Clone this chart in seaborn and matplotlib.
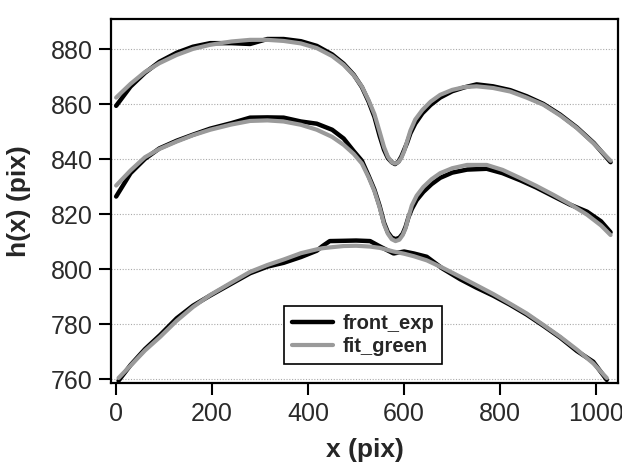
import matplotlib
matplotlib.use("Agg")
import matplotlib.pyplot as plt
import seaborn as sns
import pandas as pd

# values
x_top = [0, 30, 60, 90, 126, 160, 196, 240, 279, 315, 349, 385, 418, 450, 474, 495, 512, 526, 538, 549, 558, 566, 574, 581, 588, 594, 600, 606, 613, 623, 638, 655, 675, 700, 725, 751, 785, 821, 855, 890, 925, 960, 995, 1030]
fit_top = [862.5, 867.5, 871.8, 875.0, 878.0, 880.2, 881.7, 882.9, 883.5, 883.5, 883.1, 882.2, 880.5, 877.6, 874.4, 870.6, 866.5, 861.5, 856.5, 850.0, 844.5, 841.0, 839.0, 838.5, 839.0, 840.5, 843.0, 846.5, 850.5, 854.5, 858.0, 861.0, 863.5, 865.3, 866.3, 866.6, 866.0, 864.7, 862.5, 859.9, 856.0, 851.4, 845.8, 839.5]
exp_top = [859.5, 866.5, 871.5, 875.5, 878.8, 881.0, 882.3, 882.3, 882.0, 883.8, 883.8, 883.0, 881.3, 878.2, 874.8, 870.8, 866.3, 861.0, 855.5, 848.5, 843.5, 840.5, 839.0, 838.3, 839.2, 841.0, 843.5, 846.0, 849.5, 853.0, 856.8, 859.8, 862.5, 864.8, 866.2, 867.3, 866.6, 865.2, 863.0, 860.2, 856.3, 851.6, 846.0, 839.0]

x_mid = [0, 30, 60, 90, 126, 160, 196, 240, 279, 315, 349, 385, 418, 450, 474, 495, 512, 526, 538, 549, 558, 566, 574, 582, 590, 597, 603, 609, 616, 626, 640, 657, 675, 700, 731, 772, 805, 842, 875, 911, 945, 981, 1010, 1030]
fit_mid = [830.5, 836.0, 840.8, 843.8, 846.5, 848.8, 850.8, 852.7, 854.0, 854.2, 853.8, 852.6, 850.8, 848.2, 845.3, 842.0, 838.5, 833.5, 828.5, 822.5, 816.5, 813.0, 811.0, 810.3, 810.8, 812.5, 815.0, 819.0, 823.3, 826.8, 830.0, 832.8, 835.0, 836.8, 838.0, 838.0, 836.2, 833.2, 830.4, 827.1, 823.8, 819.9, 816.0, 812.5]
exp_mid = [826.5, 835.0, 840.2, 844.0, 846.8, 849.0, 851.2, 853.2, 855.2, 855.3, 855.2, 853.8, 853.0, 850.8, 847.6, 843.0, 839.5, 834.0, 829.0, 823.0, 817.0, 813.5, 811.6, 811.0, 811.5, 813.0, 815.5, 819.0, 822.0, 825.2, 828.2, 831.0, 833.3, 835.2, 836.3, 836.6, 835.0, 832.4, 829.8, 826.6, 823.6, 821.0, 817.5, 813.5]

x_bot = [5, 30, 60, 92, 126, 160, 196, 240, 279, 315, 349, 385, 418, 430, 445, 474, 500, 529, 550, 578, 600, 620, 647, 680, 717, 750, 786, 820, 855, 890, 925, 960, 994, 1022]
fit_bot = [760.5, 765.0, 770.5, 775.5, 781.3, 786.3, 790.7, 795.2, 799.1, 801.6, 803.6, 805.9, 807.3, 807.7, 808.0, 808.5, 808.6, 808.3, 807.8, 806.5, 805.7, 804.8, 803.3, 800.6, 797.3, 794.3, 791.0, 787.6, 784.0, 779.8, 775.5, 770.8, 765.8, 760.5]
exp_bot = [759.5, 765.2, 771.0, 776.2, 782.2, 786.8, 790.5, 794.8, 798.6, 801.0, 802.4, 804.5, 806.8, 808.5, 810.3, 810.4, 810.5, 810.3, 808.3, 805.8, 806.5, 805.8, 804.6, 800.3, 796.4, 793.4, 790.4, 787.2, 783.6, 779.5, 775.2, 770.3, 766.4, 759.8]

x_ticks = [0, 200, 400, 600, 800, 1000]
y_ticks = [760, 780, 800, 820, 840, 860, 880]

sns.set_theme(style="white")
plt.rcParams["font.family"] = ["Liberation Sans", "DejaVu Sans"]

fig = plt.figure(figsize=(6.22, 4.67), dpi=100)
ax = fig.add_axes([0.179, 0.180, 0.815, 0.780])

curves = [(x_top, exp_top, fit_top), (x_mid, exp_mid, fit_mid), (x_bot, exp_bot, fit_bot)]
for i, (xs, ye, yf) in enumerate(curves):
    df = pd.DataFrame({"x": xs, "exp": ye, "fit": yf})
    sns.lineplot(data=df, x="x", y="exp", ax=ax, color="black", lw=3.2,
                 sort=False, estimator=None, label="front_exp" if i == 0 else None)
    sns.lineplot(data=df, x="x", y="fit", ax=ax, color="#9a9a9a", lw=3.0,
                 sort=False, estimator=None, label="fit_green" if i == 0 else None)

ax.set_xlim(-10, 1046)
ax.set_ylim(758.7, 891.2)
ax.set_xticks(x_ticks)
ax.set_yticks(y_ticks)
ax.grid(axis="y", color="#aaaaaa", ls=(0, (1, 1.5)), lw=0.8)
ax.grid(axis="x", visible=False)
for s in ax.spines.values():
    s.set_color("black")
    s.set_linewidth(1.6)
ax.tick_params(axis="both", direction="out", length=8.5, width=1.5, color="black",
               labelsize=18, labelcolor="#2a2a2a", left=True, bottom=True, pad=5)
ax.set_xlabel("x (pix)", fontsize=19, fontweight="bold", labelpad=9)
ax.set_ylabel("h(x) (pix)", fontsize=19, fontweight="bold", labelpad=14)

leg = ax.legend(loc="lower left", bbox_to_anchor=(0.341, 0.052), fancybox=False,
                frameon=True, edgecolor="black", framealpha=1,
                prop={"weight": "bold", "size": 14.5}, handlelength=2.0,
                handletextpad=0.5, borderpad=0.4, labelspacing=0.2,
                borderaxespad=0)
leg.get_frame().set_linewidth(1.2)

fig.savefig("out.png", dpi=100)
